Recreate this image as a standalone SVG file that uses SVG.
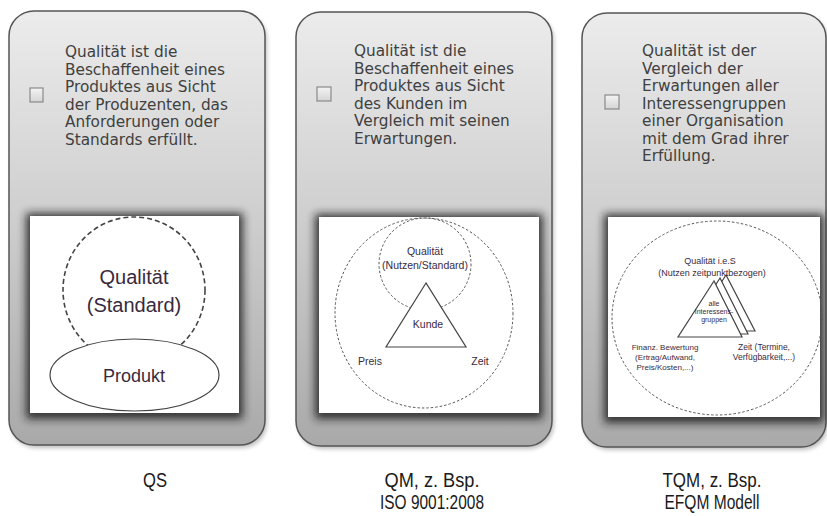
<svg xmlns="http://www.w3.org/2000/svg" width="827" height="516" viewBox="0 0 827 516">
<defs>
<linearGradient id="pg" x1="0" y1="0" x2="0" y2="1">
<stop offset="0" stop-color="#ececec"/>
<stop offset="0.45" stop-color="#d0d0d0"/>
<stop offset="1" stop-color="#a9a9a9"/>
</linearGradient>
<linearGradient id="cb" x1="0" y1="0" x2="0" y2="1">
<stop offset="0" stop-color="#f4f4f4"/>
<stop offset="1" stop-color="#d4d4d4"/>
</linearGradient>
<filter id="sh" x="-20%" y="-20%" width="140%" height="140%">
<feGaussianBlur stdDeviation="4"/>
</filter>
<filter id="psh" x="-10%" y="-10%" width="120%" height="120%">
<feGaussianBlur stdDeviation="2"/>
</filter>
</defs>
<style>
.panel{fill:url(#pg);stroke:#555;stroke-width:1.5}
.pshadow{fill:#000;opacity:0.25}
.box{fill:url(#cb);stroke:#8a8a8a;stroke-width:1.2}
.desc{font-family:"DejaVu Sans",Verdana,sans-serif;font-size:15.3px;fill:#404040}
.img{fill:#fff}
.imgsh{fill:#1e1e1e;opacity:0.85}
.dash{fill:none;stroke:#555;stroke-dasharray:2.5,2;stroke-width:1}
.dash1{fill:none;stroke:#444;stroke-dasharray:5,3;stroke-width:1.6}
.line{fill:#fff;stroke:#444;stroke-width:1.2}
.lbl{font-family:"Liberation Sans",Arial,sans-serif;fill:#3a2a3e;text-anchor:middle}
.cap{font-family:"Liberation Sans",Arial,sans-serif;font-size:20px;fill:#1a1a1a;text-anchor:middle}
</style>

<g id="panel-qs">
<rect class="pshadow" x="11" y="14" width="256" height="434" rx="25" filter="url(#psh)"/>
<rect class="panel" x="9" y="11" width="256" height="434" rx="25"/>
<rect class="box" x="30" y="88" width="13" height="14"/>
<text class="desc"><tspan x="65" y="57">Qualität ist die</tspan><tspan x="65" y="74.5">Beschaffenheit eines</tspan><tspan x="65" y="92">Produktes aus Sicht</tspan><tspan x="65" y="109.5">der Produzenten, das</tspan><tspan x="65" y="127">Anforderungen oder</tspan><tspan x="65" y="144.5">Standards erfüllt.</tspan></text>
<rect class="imgsh" x="26" y="213" width="217" height="206" filter="url(#sh)"/>
<rect class="img" x="30" y="216" width="209" height="197"/>
<ellipse class="dash1" cx="134" cy="290" rx="71" ry="73"/>
<ellipse class="line" cx="134.5" cy="375" rx="84.5" ry="36"/>
<text class="lbl" x="134" y="284" font-size="20">Qualität</text>
<text class="lbl" x="134" y="312" font-size="20">(Standard)</text>
<text class="lbl" x="134" y="382" font-size="18">Produkt</text>
</g>

<g id="panel-qm">
<rect class="pshadow" x="298" y="15" width="256" height="434" rx="25" filter="url(#psh)"/>
<rect class="panel" x="296" y="12" width="256" height="434" rx="25"/>
<rect class="box" x="317" y="87" width="14" height="14"/>
<text class="desc"><tspan x="354" y="56">Qualität ist die</tspan><tspan x="354" y="73.5">Beschaffenheit eines</tspan><tspan x="354" y="91">Produktes aus Sicht</tspan><tspan x="354" y="108.5">des Kunden im</tspan><tspan x="354" y="126">Vergleich mit seinen</tspan><tspan x="354" y="143.5">Erwartungen.</tspan></text>
<rect class="imgsh" x="315" y="214" width="228" height="205" filter="url(#sh)"/>
<rect class="img" x="319" y="217" width="220" height="196"/>
<ellipse class="dash" cx="424" cy="313" rx="89" ry="95"/>
<circle class="dash" cx="425" cy="264" r="46"/>
<polygon class="line" points="426,283 386,347 466,347"/>
<text class="lbl" x="425" y="255" font-size="10.5">Qualität</text>
<text class="lbl" x="425" y="269" font-size="10.5">(Nutzen/Standard)</text>
<text class="lbl" x="428" y="328" font-size="10.5">Kunde</text>
<text class="lbl" x="370" y="365" font-size="10.5">Preis</text>
<text class="lbl" x="480" y="365" font-size="10.5">Zeit</text>
</g>

<g id="panel-tqm">
<rect class="pshadow" x="584" y="16" width="244" height="434" rx="25" filter="url(#psh)"/>
<rect class="panel" x="582" y="13" width="244" height="434" rx="25"/>
<rect class="box" x="605" y="95" width="14" height="14"/>
<text class="desc"><tspan x="642" y="56">Qualität ist der</tspan><tspan x="642" y="73.5">Vergleich der</tspan><tspan x="642" y="91">Erwartungen aller</tspan><tspan x="642" y="108.5">Interessengruppen</tspan><tspan x="642" y="126">einer Organisation</tspan><tspan x="642" y="143.5">mit dem Grad ihrer</tspan><tspan x="642" y="161">Erfüllung.</tspan></text>
<rect class="imgsh" x="604" y="214" width="220" height="209" filter="url(#sh)"/>
<rect class="img" x="608" y="217" width="212" height="200"/>
<ellipse class="dash" cx="717" cy="318" rx="105" ry="97"/>
<polygon class="line" points="726,275 690,331 755,331"/>
<polygon class="line" points="720,278 684,334 748,334"/>
<polygon class="line" points="714,281 678,337 742,337"/>
<text class="lbl" x="710" y="264" font-size="9">Qualität i.e.S</text>
<text class="lbl" x="712" y="276" font-size="9">(Nutzen zeitpunktbezogen)</text>
<text class="lbl" x="714" y="306" font-size="7">alle</text>
<text class="lbl" x="714" y="314" font-size="7">Interessens-</text>
<text class="lbl" x="714" y="322" font-size="7">gruppen</text>
<text class="lbl" x="665" y="350" font-size="8">Finanz. Bewertung</text>
<text class="lbl" x="665" y="360" font-size="8">(Ertrag/Aufwand,</text>
<text class="lbl" x="665" y="370" font-size="8">Preis/Kosten,...)</text>
<text class="lbl" x="764" y="350" font-size="8.5">Zeit (Termine,</text>
<text class="lbl" x="764" y="360" font-size="8.5">Verfügbarkeit,...)</text>
</g>

<g id="captions">
<text class="cap" x="155" y="487" textLength="24" lengthAdjust="spacingAndGlyphs">QS</text>
<text class="cap" x="432" y="487" textLength="95" lengthAdjust="spacingAndGlyphs">QM, z. Bsp.</text>
<text class="cap" x="432" y="509" textLength="104" lengthAdjust="spacingAndGlyphs">ISO 9001:2008</text>
<text class="cap" x="712" y="487" textLength="99" lengthAdjust="spacingAndGlyphs">TQM, z. Bsp.</text>
<text class="cap" x="712" y="509" textLength="95" lengthAdjust="spacingAndGlyphs">EFQM Modell</text>
</g>
<g id="connectors"/>
</svg>
